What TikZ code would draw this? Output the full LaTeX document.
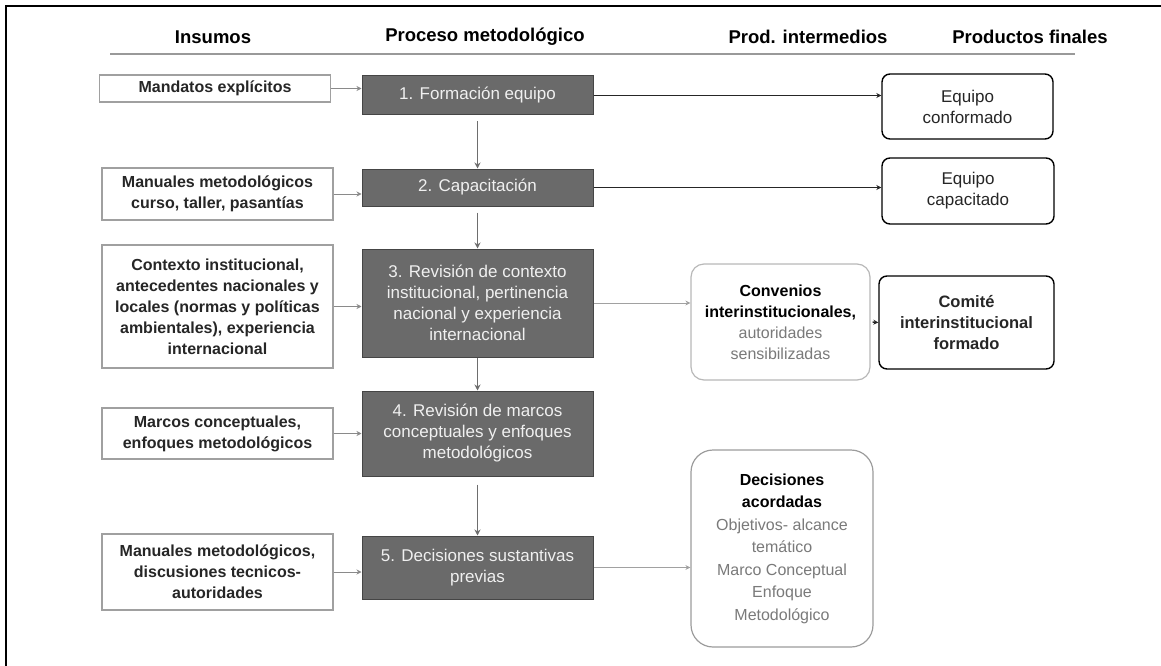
\documentclass[tikz,border=0pt]{standalone}
\usepackage{fontspec}
\setmainfont{Liberation Sans}
\usetikzlibrary{arrows.meta}
\definecolor{procfill}{HTML}{6A6A6A}
\definecolor{procedge}{HTML}{454545}
\definecolor{inedge}{HTML}{A0A0A0}
\definecolor{softtext}{HTML}{7A7A7A}
\definecolor{softedge}{HTML}{B8B8B8}
\definecolor{linkgray}{HTML}{8A8A8A}
\tikzset{
  head/.style={font=\fontsize{18.5}{20}\selectfont\bfseries, inner sep=0pt},
  inbox/.style={draw=inedge, line width=1.2pt, fill=white, align=center, inner sep=0pt,
    minimum width=231pt, font=\fontsize{16}{21}\selectfont\bfseries, text=black!85},
  procbox/.style={draw=procedge, line width=1pt, fill=procfill, align=center, inner sep=0pt,
    minimum width=231pt, font=\fontsize{17}{21}\selectfont, text=white!94!black},
  finbox/.style={draw=black, line width=1.4pt, rounded corners=8pt, fill=white, align=center,
    inner sep=0pt, font=\fontsize{17}{21}\selectfont, text=black!85},
  midbox/.style={draw=softedge, line width=1.2pt, fill=white, align=center,
    inner sep=0pt, font=\fontsize{16}{21}\selectfont},
  inlink/.style={draw=linkgray, line width=1pt, -{Stealth[length=5pt,width=5pt]}},
  downlink/.style={draw=linkgray!80!black, line width=1.2pt, -{Stealth[length=6pt,width=6pt]}},
  outlink/.style={draw=black!85, line width=1.4pt, -{Stealth[length=5pt,width=5pt]}},
  softlink/.style={draw=linkgray!80, line width=1pt, -{Stealth[length=5pt,width=5pt]}}
}
\begin{document}
\begin{tikzpicture}[x=1pt,y=-1pt]
\useasboundingbox (0,0) rectangle (1161,666);
% frame
\draw[line width=2.5pt] (6,666) -- (6,6) -- (1161,6);
% headers
\node[head] (h1) at (213,37) {Insumos};
\node[head] (h2) at (485,37) {Proceso metodológico};
\node[head] (h3) at (808,37) {Prod. intermedios};
\node[head] (h4) at (1030,37) {Productos finales};
\coordinate (hl) at (110,54);
\coordinate (hr) at (1075,54);
\draw[draw=gray!80, line width=1.3pt] (hl) -- (hr);

% inputs
\node[inbox, minimum height=27pt] (in1) at (215,88.5) {Mandatos explícitos};
\node[inbox, minimum height=52pt] (in2) at (217.5,194) {Manuales metodológicos\\curso, taller, pasantías};
\node[inbox, minimum height=123pt] (in3) at (217.5,306.5) {Contexto institucional,\\antecedentes nacionales y\\locales (normas y políticas\\ambientales), experiencia\\internacional};
\node[inbox, minimum height=51pt] (in4) at (217.5,433.5) {Marcos conceptuales,\\enfoques metodológicos};
\node[inbox, minimum height=76pt] (in5) at (217.5,572) {Manuales metodológicos,\\discusiones tecnicos-\\autoridades};

% process
\node[procbox, minimum height=39pt] (p1) at (477.5,95.5) {1. Formación equipo};
\node[procbox, minimum height=37pt] (p2) at (477.5,187.5) {2. Capacitación};
\node[procbox, minimum height=108pt] (p3) at (477.5,303) {3. Revisión de contexto\\institucional, pertinencia\\nacional y experiencia\\internacional};
\node[procbox, minimum height=85pt] (p4) at (477.5,433.5) {4. Revisión de marcos\\conceptuales y enfoques\\metodológicos};
\node[procbox, minimum height=63pt] (p5) at (477.5,567.5) {5. Decisiones sustantivas\\previas};

% intermediate
\node[midbox, rounded corners=13pt, minimum width=179pt, minimum height=116pt] (m3) at (780.5,322)
  {\textbf{Convenios}\\\textbf{interinstitucionales,}\\\textcolor{softtext}{autoridades}\\\textcolor{softtext}{sensibilizadas}};
\node[midbox, draw=softedge!85!black, rounded corners=22pt, minimum width=182pt, minimum height=197pt,
  font=\fontsize{16}{22.5}\selectfont] (m5) at (782,548.5)
  {\textbf{Decisiones}\\\textbf{acordadas}\\\textcolor{softtext}{Objetivos- alcance}\\\textcolor{softtext}{temático}\\\textcolor{softtext}{Marco Conceptual}\\\textcolor{softtext}{Enfoque}\\\textcolor{softtext}{Metodológico}};

% finals
\node[finbox, minimum width=171pt, minimum height=65pt] (f1) at (967.5,106.5) {Equipo\\conformado};
\node[finbox, minimum width=172pt, minimum height=66pt] (f2) at (968,191) {Equipo\\capacitado};
\node[finbox, minimum width=175pt, minimum height=93pt, font=\fontsize{16.5}{21}\selectfont\bfseries] (f3) at (966.5,322.5) {Comité\\interinstitucional\\formado};

% input links
\draw[inlink] (in1.east) -- (in1.east -| p1.west);
\draw[inlink] (in2.east) -- (in2.east -| p2.west);
\draw[inlink] (in3.east) -- (in3.east -| p3.west);
\draw[inlink] (in4.east) -- (in4.east -| p4.west);
\draw[inlink] (in5.east) -- (in5.east -| p5.west);

% vertical flow
\draw[downlink, shorten <=6pt] (p1.south) -- (p2.north);
\draw[downlink, shorten <=6pt] (p2.south) -- (p3.north);
\draw[downlink] (p3.south) -- (p4.north);
\draw[downlink, shorten <=8pt] (p4.south) -- (p5.north);

% outputs
\draw[outlink] (p1.east) -- (p1.east -| f1.west);
\draw[outlink] (p2.east) -- (p2.east -| f2.west);
\draw[softlink] (p3.east) -- (p3.east -| m3.west);
\draw[outlink, shorten <=2pt] (m3.east) -- (f3.west);
\draw[softlink] (p5.east) -- (p5.east -| m5.west);
\end{tikzpicture}
\end{document}
